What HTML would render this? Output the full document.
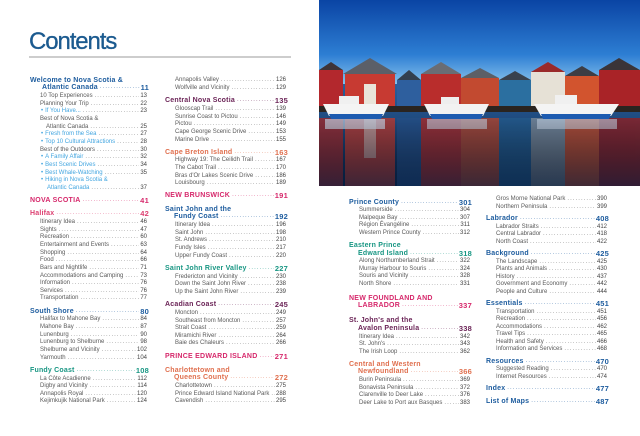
<!DOCTYPE html>
<html><head><meta charset="utf-8">
<style>
html,body{margin:0;padding:0}
body{width:640px;height:436px;overflow:hidden;background:#fff;position:relative;font-family:"Liberation Sans",sans-serif}
.title{position:absolute;left:29px;top:30px;font-size:24px;line-height:24px;color:#1b5a8f;letter-spacing:-1.1px;-webkit-text-stroke:.3px #1b5a8f}
.rule{position:absolute;left:29px;top:56px;width:262px;height:1.5px;background:#cdcdcd}
.col{position:absolute}
.r{display:flex;white-space:nowrap;height:var(--p);line-height:var(--p);font-size:6px;color:#5a5a5a;padding-left:10px;padding-right:2px;align-items:flex-start}
.r>span{line-height:var(--p);height:var(--p);position:relative;top:1.2px}
.r.h>span{top:0}
.r .t{flex:none}
.d{flex:1 1 0;overflow:hidden;margin:0 1px 0 2px;color:#8a8a8a;font-size:6px;font-weight:normal;letter-spacing:1.05px}
.d::before{content:"........................................................................................................................"}
.n{flex:none;color:#444}
.h{font-size:7px;font-weight:bold;letter-spacing:.2px;padding-left:0;padding-right:0}
.h .n{font-size:7.5px;color:inherit}
.h .d{color:inherit;opacity:.75}
.g{margin-top:var(--m)}
.b{padding-left:11px}
.b .t{color:#43a6e0}
.b .t::before{content:"•";margin-right:2px}
.nb{padding-left:17px}
.nb .t{color:#43a6e0}
.i12{padding-left:12px}
.i9{padding-left:9px}
.i16{padding-left:16px}
.nv{color:#1d5c9e}
.mg{color:#d6286b}
.pk{color:#dc3f70}
.tl{color:#189683}
.pu{color:#6b2457}
.sa{color:#e0704f}
.up{letter-spacing:.25px}
</style></head><body>

<div class="title">Contents</div>
<div class="rule"></div>

<!-- Column 1 -->
<div class="col" style="left:30px;top:76.7px;width:119px;--p:7.65px;--m:5.65px">
 <div class="r h nv"><span class="t">Welcome to Nova Scotia &amp;</span></div>
 <div class="r h nv i12"><span class="t">Atlantic Canada</span><span class="d"></span><span class="n">11</span></div>
 <div class="r"><span class="t">10 Top Experiences</span><span class="d"></span><span class="n">13</span></div>
 <div class="r"><span class="t">Planning Your Trip</span><span class="d"></span><span class="n">22</span></div>
 <div class="r b"><span class="t">If You Have...</span><span class="d"></span><span class="n">23</span></div>
 <div class="r"><span class="t">Best of Nova Scotia &amp;</span></div>
 <div class="r i16"><span class="t">Atlantic Canada</span><span class="d"></span><span class="n">25</span></div>
 <div class="r b"><span class="t">Fresh from the Sea</span><span class="d"></span><span class="n">27</span></div>
 <div class="r b"><span class="t">Top 10 Cultural Attractions</span><span class="d"></span><span class="n">28</span></div>
 <div class="r"><span class="t">Best of the Outdoors</span><span class="d"></span><span class="n">30</span></div>
 <div class="r b"><span class="t">A Family Affair</span><span class="d"></span><span class="n">32</span></div>
 <div class="r b"><span class="t">Best Scenic Drives</span><span class="d"></span><span class="n">34</span></div>
 <div class="r b"><span class="t">Best Whale-Watching</span><span class="d"></span><span class="n">35</span></div>
 <div class="r b"><span class="t">Hiking in Nova Scotia &amp;</span></div>
 <div class="r nb"><span class="t">Atlantic Canada</span><span class="d"></span><span class="n">37</span></div>
 <div class="r h mg up g"><span class="t">NOVA SCOTIA</span><span class="d"></span><span class="n">41</span></div>
 <div class="r h pk g"><span class="t">Halifax</span><span class="d"></span><span class="n">42</span></div>
 <div class="r"><span class="t">Itinerary Idea</span><span class="d"></span><span class="n">46</span></div>
 <div class="r"><span class="t">Sights</span><span class="d"></span><span class="n">47</span></div>
 <div class="r"><span class="t">Recreation</span><span class="d"></span><span class="n">60</span></div>
 <div class="r"><span class="t">Entertainment and Events</span><span class="d"></span><span class="n">63</span></div>
 <div class="r"><span class="t">Shopping</span><span class="d"></span><span class="n">64</span></div>
 <div class="r"><span class="t">Food</span><span class="d"></span><span class="n">66</span></div>
 <div class="r"><span class="t">Bars and Nightlife</span><span class="d"></span><span class="n">71</span></div>
 <div class="r"><span class="t">Accommodations and Camping</span><span class="d"></span><span class="n">73</span></div>
 <div class="r"><span class="t">Information</span><span class="d"></span><span class="n">76</span></div>
 <div class="r"><span class="t">Services</span><span class="d"></span><span class="n">76</span></div>
 <div class="r"><span class="t">Transportation</span><span class="d"></span><span class="n">77</span></div>
 <div class="r h nv g"><span class="t">South Shore</span><span class="d"></span><span class="n">80</span></div>
 <div class="r"><span class="t">Halifax to Mahone Bay</span><span class="d"></span><span class="n">84</span></div>
 <div class="r"><span class="t">Mahone Bay</span><span class="d"></span><span class="n">87</span></div>
 <div class="r"><span class="t">Lunenburg</span><span class="d"></span><span class="n">90</span></div>
 <div class="r"><span class="t">Lunenburg to Shelburne</span><span class="d"></span><span class="n">98</span></div>
 <div class="r"><span class="t">Shelburne and Vicinity</span><span class="d"></span><span class="n">102</span></div>
 <div class="r"><span class="t">Yarmouth</span><span class="d"></span><span class="n">104</span></div>
 <div class="r h tl g"><span class="t">Fundy Coast</span><span class="d"></span><span class="n">108</span></div>
 <div class="r"><span class="t">La Côte Acadienne</span><span class="d"></span><span class="n">112</span></div>
 <div class="r"><span class="t">Digby and Vicinity</span><span class="d"></span><span class="n">114</span></div>
 <div class="r"><span class="t">Annapolis Royal</span><span class="d"></span><span class="n">120</span></div>
 <div class="r"><span class="t">Kejimkujik National Park</span><span class="d"></span><span class="n">124</span></div>
</div>

<!-- Column 2 -->
<div class="col" style="left:165px;top:76.2px;width:123px;--p:7.65px;--m:5.65px">
 <div class="r"><span class="t">Annapolis Valley</span><span class="d"></span><span class="n">126</span></div>
 <div class="r"><span class="t">Wolfville and Vicinity</span><span class="d"></span><span class="n">129</span></div>
 <div class="r h pu g"><span class="t">Central Nova Scotia</span><span class="d"></span><span class="n">135</span></div>
 <div class="r"><span class="t">Glooscap Trail</span><span class="d"></span><span class="n">139</span></div>
 <div class="r"><span class="t">Sunrise Coast to Pictou</span><span class="d"></span><span class="n">146</span></div>
 <div class="r"><span class="t">Pictou</span><span class="d"></span><span class="n">149</span></div>
 <div class="r"><span class="t">Cape George Scenic Drive</span><span class="d"></span><span class="n">153</span></div>
 <div class="r"><span class="t">Marine Drive</span><span class="d"></span><span class="n">155</span></div>
 <div class="r h sa g"><span class="t">Cape Breton Island</span><span class="d"></span><span class="n">163</span></div>
 <div class="r"><span class="t">Highway 19: The Ceilidh Trail</span><span class="d"></span><span class="n">167</span></div>
 <div class="r"><span class="t">The Cabot Trail</span><span class="d"></span><span class="n">170</span></div>
 <div class="r"><span class="t">Bras d'Or Lakes Scenic Drive</span><span class="d"></span><span class="n">186</span></div>
 <div class="r"><span class="t">Louisbourg</span><span class="d"></span><span class="n">189</span></div>
 <div class="r h mg up g"><span class="t">NEW BRUNSWICK</span><span class="d"></span><span class="n">191</span></div>
 <div class="r h nv g"><span class="t">Saint John and the</span></div>
 <div class="r h nv i9"><span class="t">Fundy Coast</span><span class="d"></span><span class="n">192</span></div>
 <div class="r"><span class="t">Itinerary Idea</span><span class="d"></span><span class="n">196</span></div>
 <div class="r"><span class="t">Saint John</span><span class="d"></span><span class="n">198</span></div>
 <div class="r"><span class="t">St. Andrews</span><span class="d"></span><span class="n">210</span></div>
 <div class="r"><span class="t">Fundy Isles</span><span class="d"></span><span class="n">217</span></div>
 <div class="r"><span class="t">Upper Fundy Coast</span><span class="d"></span><span class="n">220</span></div>
 <div class="r h tl g"><span class="t">Saint John River Valley</span><span class="d"></span><span class="n">227</span></div>
 <div class="r"><span class="t">Fredericton and Vicinity</span><span class="d"></span><span class="n">230</span></div>
 <div class="r"><span class="t">Down the Saint John River</span><span class="d"></span><span class="n">238</span></div>
 <div class="r"><span class="t">Up the Saint John River</span><span class="d"></span><span class="n">239</span></div>
 <div class="r h pu g"><span class="t">Acadian Coast</span><span class="d"></span><span class="n">245</span></div>
 <div class="r"><span class="t">Moncton</span><span class="d"></span><span class="n">249</span></div>
 <div class="r"><span class="t">Southeast from Moncton</span><span class="d"></span><span class="n">257</span></div>
 <div class="r"><span class="t">Strait Coast</span><span class="d"></span><span class="n">259</span></div>
 <div class="r"><span class="t">Miramichi River</span><span class="d"></span><span class="n">264</span></div>
 <div class="r"><span class="t">Baie des Chaleurs</span><span class="d"></span><span class="n">266</span></div>
 <div class="r h mg up g" style="margin-top:6.5px"><span class="t">PRINCE EDWARD ISLAND</span><span class="d"></span><span class="n">271</span></div>
 <div class="r h sa g"><span class="t">Charlottetown and</span></div>
 <div class="r h sa i9"><span class="t">Queens County</span><span class="d"></span><span class="n">272</span></div>
 <div class="r"><span class="t">Charlottetown</span><span class="d"></span><span class="n">275</span></div>
 <div class="r"><span class="t">Prince Edward Island National Park</span><span class="d"></span><span class="n">288</span></div>
 <div class="r"><span class="t">Cavendish</span><span class="d"></span><span class="n">295</span></div>
</div>

<!-- Photo -->
<svg style="position:absolute;left:319px;top:0" width="321" height="186" viewBox="0 0 321 186">
 <defs>
  <linearGradient id="sky" x1="0" y1="0" x2="0" y2="1">
   <stop offset="0" stop-color="#0a44a4"/><stop offset=".65" stop-color="#2d7ed3"/><stop offset="1" stop-color="#86c1ec"/>
  </linearGradient>
  <linearGradient id="wat" x1="0" y1="0" x2="0" y2="1">
   <stop offset="0" stop-color="#2a5f9c"/><stop offset="1" stop-color="#0a2448"/>
  </linearGradient>
  <linearGradient id="dk" x1="0" y1="0" x2="0" y2="1">
   <stop offset="0" stop-color="#000" stop-opacity="0"/><stop offset="1" stop-color="#041a3a" stop-opacity=".6"/>
  </linearGradient>
 </defs>
 <rect width="321" height="84" fill="url(#sky)"/>
 <rect y="84" width="321" height="102" fill="url(#wat)"/>
 <g opacity=".8">
  <rect x="0" y="118" width="24" height="68" fill="#9e2a2e"/>
  <rect x="26" y="118" width="50" height="68" fill="#b83a32"/>
  <rect x="45" y="118" width="12" height="40" fill="#d8d0c4" opacity=".6"/>
  <rect x="78" y="118" width="24" height="68" fill="#244e85"/>
  <rect x="102" y="118" width="40" height="68" fill="#a82a2a"/>
  <rect x="142" y="118" width="38" height="68" fill="#b0442e"/>
  <rect x="180" y="118" width="32" height="68" fill="#23598a"/>
  <rect x="212" y="118" width="34" height="68" fill="#b9b4aa" opacity=".6"/>
  <rect x="246" y="118" width="34" height="68" fill="#c04a2a"/>
  <rect x="280" y="118" width="41" height="68" fill="#8f2024"/>
  <rect x="6" y="119" width="60" height="10" fill="#e8eef6" opacity=".7"/>
  <rect x="108" y="119" width="60" height="10" fill="#e8eef6" opacity=".6"/>
  <rect x="218" y="119" width="80" height="10" fill="#e8eef6" opacity=".6"/>
 </g>
 <rect y="118" width="321" height="68" fill="url(#dk)"/>
 <polygon points="0,70 12,62 24,70" fill="#3e3438"/>
 <rect x="0" y="70" width="24" height="40" fill="#b3282d"/>
 <polygon points="24,74 51,58 78,74" fill="#5b5f68"/>
 <rect x="26" y="74" width="50" height="34" fill="#c73a32"/>
 <rect x="45" y="84" width="12" height="24" fill="#e9e4da"/>
 <polygon points="78,80 90,70 102,80" fill="#33404f"/>
 <rect x="78" y="80" width="24" height="28" fill="#2e5f9e"/>
 <polygon points="102,74 122,62 142,74" fill="#6a6d74"/>
 <rect x="102" y="74" width="40" height="34" fill="#b92d2c"/>
 <polygon points="142,78 161,68 180,78" fill="#5c5f66"/>
 <rect x="142" y="78" width="38" height="30" fill="#c24a30"/>
 <polygon points="180,80 196,71 212,80" fill="#39414d"/>
 <rect x="180" y="80" width="32" height="28" fill="#2b6fa0"/>
 <polygon points="212,72 229,62 246,72" fill="#9a2a2a"/>
 <rect x="212" y="72" width="34" height="36" fill="#e6e1d6"/>
 <polygon points="246,76 263,66 280,76" fill="#3d3d44"/>
 <rect x="246" y="76" width="34" height="32" fill="#d2542e"/>
 <polygon points="280,70 300,58 321,70" fill="#3a3438"/>
 <rect x="280" y="70" width="41" height="38" fill="#a92327"/>
 <rect x="0" y="106" width="321" height="6" fill="#2a2420"/>
 <rect x="20" y="96" width="20" height="9" fill="#f0f0f0"/>
 <polygon points="4,104 70,104 64,116 10,116" fill="#f4f4f4"/>
 <polygon points="10,114 64,114 62,119 12,119" fill="#1d5bb0"/>
 <rect x="122" y="97" width="18" height="8" fill="#eeeeee"/>
 <polygon points="105,104 170,104 164,116 111,116" fill="#f2f2f2"/>
 <polygon points="111,114 164,114 162,119 113,119" fill="#1d5bb0"/>
 <rect x="236" y="95" width="22" height="10" fill="#f0f0f0"/>
 <polygon points="215,104 300,104 292,116 222,116" fill="#f4f4f4"/>
 <polygon points="222,114 292,114 290,119 224,119" fill="#1d5bb0"/>
</svg>

<!-- Column 3 -->
<div class="col" style="left:349px;top:198.5px;width:123px;--p:7.55px;--m:5.75px">
 <div class="r h nv"><span class="t">Prince County</span><span class="d"></span><span class="n">301</span></div>
 <div class="r"><span class="t">Summerside</span><span class="d"></span><span class="n">304</span></div>
 <div class="r"><span class="t">Malpeque Bay</span><span class="d"></span><span class="n">307</span></div>
 <div class="r"><span class="t">Région Évangéline</span><span class="d"></span><span class="n">311</span></div>
 <div class="r"><span class="t">Western Prince County</span><span class="d"></span><span class="n">312</span></div>
 <div class="r h tl g"><span class="t">Eastern Prince</span></div>
 <div class="r h tl i9"><span class="t">Edward Island</span><span class="d"></span><span class="n">318</span></div>
 <div class="r"><span class="t">Along Northumberland Strait</span><span class="d"></span><span class="n">322</span></div>
 <div class="r"><span class="t">Murray Harbour to Souris</span><span class="d"></span><span class="n">324</span></div>
 <div class="r"><span class="t">Souris and Vicinity</span><span class="d"></span><span class="n">328</span></div>
 <div class="r"><span class="t">North Shore</span><span class="d"></span><span class="n">331</span></div>
 <div class="r h mg up" style="margin-top:7.45px"><span class="t">NEW FOUNDLAND AND</span></div>
 <div class="r h mg up i9"><span class="t">LABRADOR</span><span class="d"></span><span class="n">337</span></div>
 <div class="r h pu" style="margin-top:7.45px"><span class="t">St. John's and the</span></div>
 <div class="r h pu i9"><span class="t">Avalon Peninsula</span><span class="d"></span><span class="n">338</span></div>
 <div class="r"><span class="t">Itinerary Idea</span><span class="d"></span><span class="n">342</span></div>
 <div class="r"><span class="t">St. John's</span><span class="d"></span><span class="n">343</span></div>
 <div class="r"><span class="t">The Irish Loop</span><span class="d"></span><span class="n">362</span></div>
 <div class="r h sa g"><span class="t">Central and Western</span></div>
 <div class="r h sa i9"><span class="t">Newfoundland</span><span class="d"></span><span class="n">366</span></div>
 <div class="r"><span class="t">Burin Peninsula</span><span class="d"></span><span class="n">369</span></div>
 <div class="r"><span class="t">Bonavista Peninsula</span><span class="d"></span><span class="n">372</span></div>
 <div class="r"><span class="t">Clarenville to Deer Lake</span><span class="d"></span><span class="n">376</span></div>
 <div class="r"><span class="t">Deer Lake to Port aux Basques</span><span class="d"></span><span class="n">383</span></div>
</div>

<!-- Column 4 -->
<div class="col" style="left:486px;top:195.3px;width:123px;--p:7.5px;--m:5px">
 <div class="r"><span class="t">Gros Morne National Park</span><span class="d"></span><span class="n">390</span></div>
 <div class="r"><span class="t">Northern Peninsula</span><span class="d"></span><span class="n">399</span></div>
 <div class="r h nv g"><span class="t">Labrador</span><span class="d"></span><span class="n">408</span></div>
 <div class="r"><span class="t">Labrador Straits</span><span class="d"></span><span class="n">412</span></div>
 <div class="r"><span class="t">Central Labrador</span><span class="d"></span><span class="n">418</span></div>
 <div class="r"><span class="t">North Coast</span><span class="d"></span><span class="n">422</span></div>
 <div class="r h nv g"><span class="t">Background</span><span class="d"></span><span class="n">425</span></div>
 <div class="r"><span class="t">The Landscape</span><span class="d"></span><span class="n">425</span></div>
 <div class="r"><span class="t">Plants and Animals</span><span class="d"></span><span class="n">430</span></div>
 <div class="r"><span class="t">History</span><span class="d"></span><span class="n">437</span></div>
 <div class="r"><span class="t">Government and Economy</span><span class="d"></span><span class="n">442</span></div>
 <div class="r"><span class="t">People and Culture</span><span class="d"></span><span class="n">444</span></div>
 <div class="r h nv g"><span class="t">Essentials</span><span class="d"></span><span class="n">451</span></div>
 <div class="r"><span class="t">Transportation</span><span class="d"></span><span class="n">451</span></div>
 <div class="r"><span class="t">Recreation</span><span class="d"></span><span class="n">456</span></div>
 <div class="r"><span class="t">Accommodations</span><span class="d"></span><span class="n">462</span></div>
 <div class="r"><span class="t">Travel Tips</span><span class="d"></span><span class="n">465</span></div>
 <div class="r"><span class="t">Health and Safety</span><span class="d"></span><span class="n">466</span></div>
 <div class="r"><span class="t">Information and Services</span><span class="d"></span><span class="n">468</span></div>
 <div class="r h nv g"><span class="t">Resources</span><span class="d"></span><span class="n">470</span></div>
 <div class="r"><span class="t">Suggested Reading</span><span class="d"></span><span class="n">470</span></div>
 <div class="r"><span class="t">Internet Resources</span><span class="d"></span><span class="n">474</span></div>
 <div class="r h nv g"><span class="t">Index</span><span class="d"></span><span class="n">477</span></div>
 <div class="r h nv g"><span class="t">List of Maps</span><span class="d"></span><span class="n">487</span></div>
</div>

</body></html>
